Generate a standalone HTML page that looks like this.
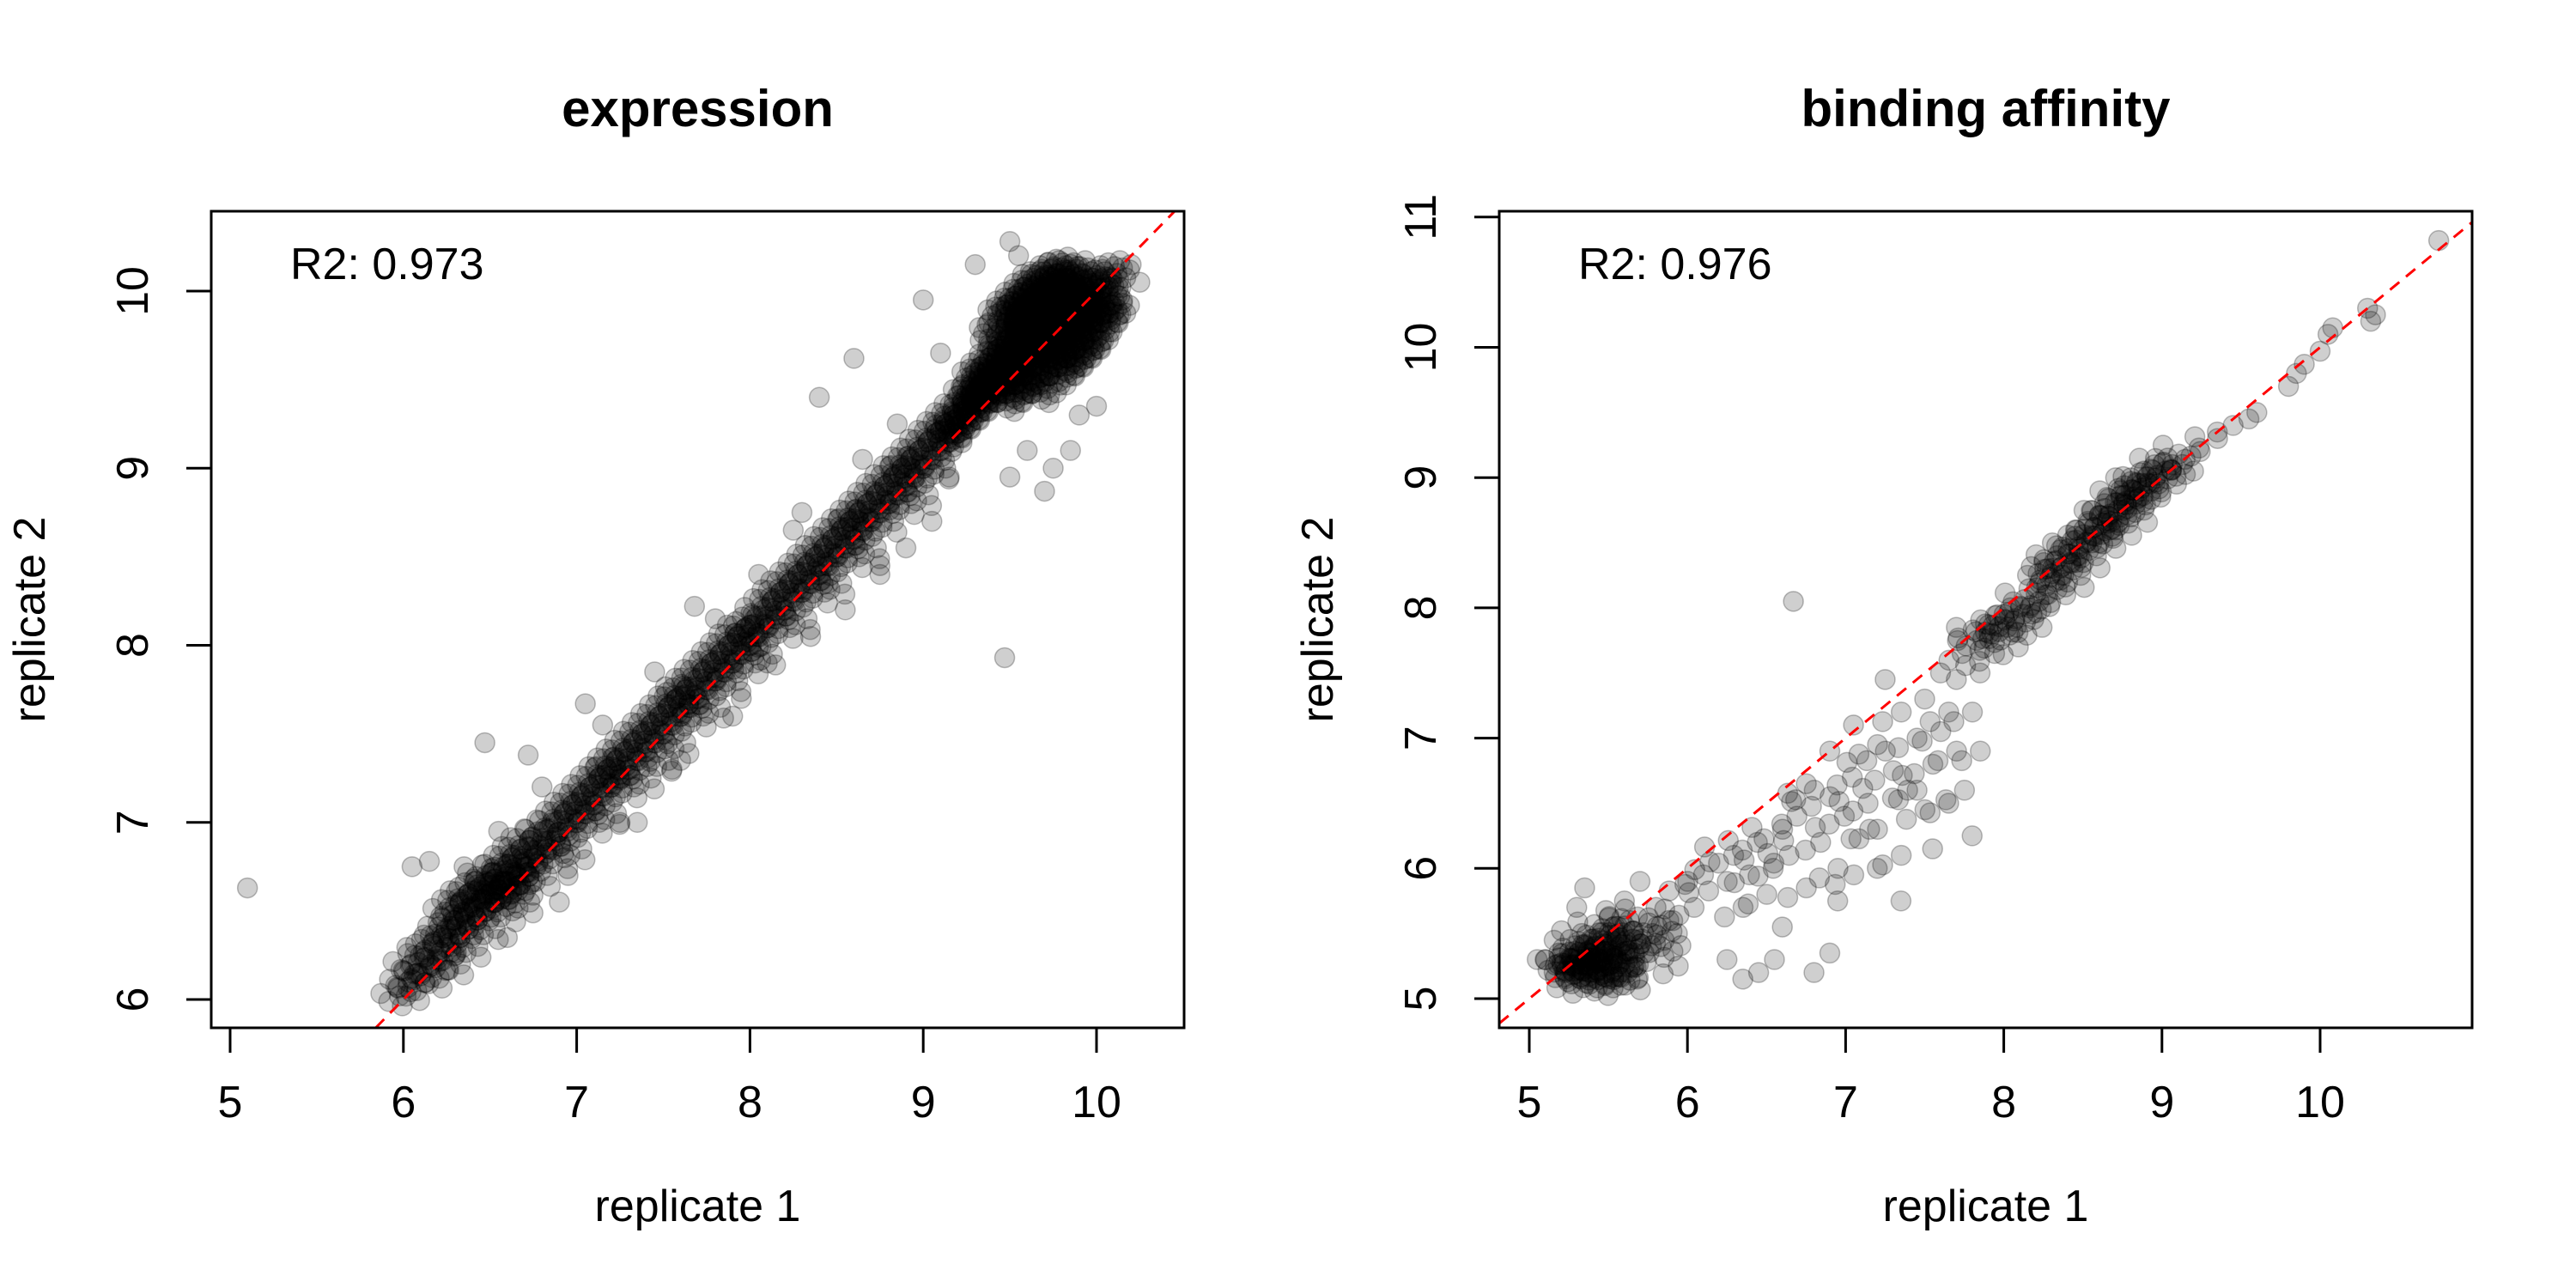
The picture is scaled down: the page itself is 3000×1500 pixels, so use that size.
<!DOCTYPE html>
<html><head><meta charset="utf-8"><style>
html,body{margin:0;padding:0;background:#fff;}
svg{display:block;font-family:"Liberation Sans",sans-serif;}
</style></head><body>
<svg id="chart" width="3000" height="1500" viewBox="0 0 3000 1500" xmlns="http://www.w3.org/2000/svg"></svg>
<script>
// ---- expression panel data ----
const expBandX = [5.95,6.0,6.02,6.05,6.08,6.1,6.12,6.15,6.18,6.2,6.2,6.22,6.25,6.25,6.28,6.3,6.3,6.32,6.35,6.35,6.38,6.4,6.4,6.42,6.45,6.45,6.48,6.5,6.5,6.52,6.55,6.55,6.58,6.6,6.6,6.62,6.65,6.65,6.68,6.7,6.7,6.72,6.75,6.78,6.8,6.82,6.85,6.88,6.9,6.92,6.95,6.98,7.0,7.02,7.05,7.08,7.1,7.12,7.15,7.18,7.2,7.22,7.25,7.28,7.3,7.32,7.35,7.38,7.4,7.42,7.45,7.48,7.5,7.52,7.55,7.58,7.6,7.62,7.65,7.68,7.7,7.72,7.75,7.78,7.8,7.82,7.85,7.88,7.9,7.92,7.95,7.98,8.0,8.02,8.05,8.08,8.1,8.12,8.15,8.18,8.2,8.22,8.25,8.28,8.3,8.32,8.35,8.38,8.4,8.42,8.45,8.48,8.5,8.52,8.55,8.58,8.6,8.62,8.65,8.68,8.7,8.72,8.75,8.78,8.8,8.82,8.85,8.88,8.9,8.92,8.95,8.98,9.0,9.02,9.05,9.08,9.1,9.12,9.15,9.18,9.2];
const expBandY = [6.02,6.1,6.2,6.05,6.15,6.28,6.18,6.3,6.12,6.35,6.22,6.4,6.3,6.5,6.42,6.35,6.55,6.48,6.4,6.6,6.52,6.45,6.62,6.55,6.5,6.7,6.6,6.55,6.68,6.62,6.58,6.75,6.65,6.6,6.8,6.7,6.65,6.85,6.75,6.72,6.9,6.8,6.78,6.95,6.85,6.9,7.0,6.88,7.05,6.95,7.1,7.0,7.15,7.05,7.2,7.1,7.25,7.15,7.3,7.2,7.35,7.25,7.4,7.3,7.45,7.35,7.5,7.4,7.55,7.45,7.6,7.5,7.65,7.55,7.7,7.6,7.72,7.65,7.8,7.7,7.85,7.75,7.9,7.8,7.95,7.85,8.0,7.9,8.05,7.95,8.1,8.0,8.12,8.05,8.2,8.1,8.25,8.15,8.3,8.2,8.35,8.25,8.4,8.3,8.45,8.35,8.5,8.4,8.55,8.45,8.6,8.5,8.65,8.55,8.7,8.6,8.75,8.65,8.8,8.7,8.85,8.75,8.9,8.8,8.95,8.85,9.0,8.9,9.05,8.95,9.1,9.0,9.15,9.05,9.2,9.1,9.25,9.15,9.3,9.2,9.35];
const expBand2X = [6.3,6.4,6.5,6.6,6.7,6.8,6.9,7.0,7.1,7.2,7.3,7.4,7.5,7.6,7.7,7.8,7.9,8.0,8.1,8.2,8.3,8.4,8.5,8.6,8.7,8.8,8.9,9.0,9.1,6.5,6.6,6.7,7.2,7.6,8.0,8.6,8.9];
const expBand2Y = [6.2,6.3,6.4,6.5,6.55,6.7,6.8,6.85,7.0,7.05,7.2,7.25,7.35,7.45,7.6,7.65,7.8,7.9,7.95,8.1,8.15,8.3,8.35,8.5,8.55,8.7,8.8,8.85,9.0,6.65,6.7,6.65,7.3,7.75,8.05,8.7,9.0];
const expCoreX = [9.25,9.3,9.3,9.35,9.35,9.4,9.4,9.4,9.45,9.45,9.45,9.5,9.5,9.5,9.5,9.55,9.55,9.55,9.55,9.6,9.6,9.6,9.6,9.65,9.65,9.65,9.65,9.7,9.7,9.7,9.7,9.7,9.75,9.75,9.75,9.75,9.8,9.8,9.8,9.8,9.8,9.85,9.85,9.85,9.85,9.9,9.9,9.9,9.9,9.95,9.95,9.95,10.0,10.0,10.0,10.05,10.05,10.1,10.1,9.6,9.65,9.7,9.75,9.8,9.85,9.55,9.6,9.65,9.7,9.75,9.8,9.85,9.9,9.5,9.55,9.45,9.4,9.35,9.3,9.25,9.2,9.15];
const expCoreY = [9.4,9.5,9.35,9.55,9.4,9.6,9.45,9.75,9.5,9.65,9.85,9.55,9.7,9.9,9.4,9.6,9.75,9.95,9.45,9.5,9.65,9.8,10.0,9.55,9.7,9.85,10.05,9.6,9.75,9.9,10.05,9.45,9.65,9.8,9.95,10.1,9.55,9.7,9.85,10.0,10.12,9.6,9.75,9.9,10.05,9.65,9.8,9.95,10.1,9.7,9.85,10.0,9.75,9.9,10.05,9.85,10.0,9.9,10.1,9.9,9.95,9.85,9.9,9.95,9.95,9.85,9.75,9.8,9.7,9.75,9.8,9.85,9.9,9.6,9.65,9.55,9.5,9.45,9.4,9.3,9.25,9.2];
const expOutX = [5.1,9.47,6.47,8.6,8.4,9.0,9.5,6.72,6.05,7.05,7.68,9.5,9.7,9.85,8.42,8.3,9.15,9.3,9.55,10.2,10.25,10.15,9.05,8.9,8.75,8.55,8.45,8.1,7.9,7.55,7.35,6.9,6.3,6.15,6.6,9.9,10.0,9.6,9.75,9.1,6.35,6.55,6.8,7.15,7.45,7.8,8.05,8.25,8.65,8.85,6.95,7.25,7.6,7.95,8.35,8.75];
const expOutY = [6.63,7.93,7.45,9.62,9.4,9.95,10.28,7.38,6.75,7.67,8.22,8.95,8.87,9.1,8.45,8.75,8.95,10.15,10.2,10.15,10.05,9.95,8.7,8.55,8.4,8.2,8.35,7.9,7.6,7.3,7.0,6.55,6.25,6.78,6.35,9.3,9.35,9.1,9.0,9.65,6.75,6.95,7.2,7.55,7.85,8.15,8.4,8.65,9.05,9.25,6.7,7.0,7.35,7.7,8.05,8.45];
// ---- binding affinity panel data ----
const bndLowX = [5.25,5.35,5.45,5.5,5.4,5.3,5.55,5.6,5.65,5.7,5.2,5.15,5.5,5.75,5.8,5.85,5.9,5.3,5.6,5.45,5.65,5.9,6.0,5.55,5.75,5.95,6.05,5.35,5.25,5.4,5.5,5.6];
const bndLowY = [5.3,5.25,5.3,5.2,5.4,5.15,5.4,5.3,5.45,5.35,5.2,5.35,5.55,5.5,5.4,5.6,5.5,5.5,5.6,5.1,5.15,5.25,5.7,5.75,5.7,5.9,5.95,5.35,5.25,5.2,5.45,5.2];
const bndLowN = [12,14,14,12,12,8,12,10,8,8,7,4,6,6,5,5,4,5,5,6,5,3,3,2,2,2,2,12,10,12,12,10];
const bndMidX = [5.05,5.1,5.3,5.35,5.7,6.1,6.2,6.25,6.3,6.35,6.4,6.45,6.5,6.55,6.6,6.6,6.65,6.7,6.75,6.8,6.85,6.9,6.9,6.95,7.0,7.0,7.05,7.1,7.15,7.2,7.25,7.3,7.3,7.35,7.4,7.45,7.5,7.5,7.55,7.6,7.6,7.65,7.7,7.7,7.75,7.8,7.8,7.4,6.55,6.8,6.9,6.35,6.45,6.25,6.95,7.2,7.1,6.7,7.25,7.15,7.35,7.55,6.67];
const bndMidY = [5.3,5.3,5.7,5.85,5.9,6.05,5.9,6.1,5.7,5.95,6.2,5.8,6.0,6.3,5.55,6.1,6.4,5.85,6.6,6.2,6.55,6.0,6.9,6.4,6.7,5.95,7.1,6.5,6.3,6.9,6.75,7.2,6.1,6.6,7.0,6.45,6.8,7.3,7.05,6.5,7.2,6.9,7.45,6.6,7.2,6.9,6.25,6.6,5.3,5.2,5.35,5.15,5.2,5.3,5.75,6.0,6.3,6.65,7.45,6.95,5.75,6.15,8.05];
const bndMidN = [1,1,1,1,1,3,2,3,2,3,3,2,3,2,1,3,3,2,2,3,2,2,1,3,3,2,1,3,2,2,2,2,2,3,2,2,2,1,2,2,2,2,1,2,2,2,1,2,1,1,1,1,1,1,1,1,2,2,1,2,1,1,1];
const bndHighX = [7.7,7.8,7.9,8.0,8.1,8.2,8.3,8.4,8.5,8.6,8.7,8.8,8.9,9.0,9.1,9.2,9.3,7.9,8.05,8.2,8.35,8.45,8.55,8.65,8.75,8.85,8.95,9.05,8.0,8.3,8.5,8.7,8.85,9.0,8.6,7.85,7.95,7.6,7.7,8.15,8.4,9.2,8.25,8.45,8.65,8.8];
const bndHighY = [7.65,7.75,7.8,7.85,7.95,8.05,8.2,8.35,8.5,8.65,8.75,8.85,8.95,9.05,9.1,9.2,9.3,7.65,7.7,7.85,8.1,8.25,8.4,8.55,8.65,8.75,8.85,8.95,8.0,8.4,8.65,8.9,9.05,9.15,8.8,7.5,7.95,7.5,7.85,8.25,8.55,9.05,8.3,8.45,8.6,8.9];
const bndHighN = [4,6,8,10,10,10,10,10,10,10,12,12,12,10,6,3,2,3,3,3,3,4,4,4,4,4,3,3,3,4,4,4,4,4,4,1,2,1,1,1,2,1,8,8,8,8];
const bndTailX = [9.35,9.45,9.55,9.6,9.8,9.85,9.9,10.0,10.05,10.08,10.3,10.35,10.32,10.75];
const bndTailY = [9.35,9.4,9.45,9.5,9.7,9.8,9.87,9.97,10.1,10.15,10.3,10.25,10.2,10.82];
// ---- axes/text ----
const expXTicks = [5,6,7,8,9,10];
const expYTicks = [6,7,8,9,10];
const bndXTicks = [5,6,7,8,9,10];
const bndYTicks = [5,6,7,8,9,10,11];

const NS = "http://www.w3.org/2000/svg";
const svg = document.getElementById('chart');
function mk(tag, attrs, parent){const e=document.createElementNS(NS,tag);for(const k in attrs)e.setAttribute(k,attrs[k]);(parent||svg).appendChild(e);return e;}

function panel(cfg){
  const g = mk('g',{});
  
  
  const sx = v => cfg.x0px + (v - cfg.x0v) * cfg.xs;
  const sy = v => cfg.y0px - (v - cfg.y0v) * cfg.ys;
  const clip = mk('clipPath',{id:cfg.name+'-clip'},g);
  mk('rect',{x:cfg.L,y:cfg.T,width:cfg.R-cfg.L,height:cfg.B-cfg.T},clip);
  const pts = mk('g',{'clip-path':'url(#'+cfg.name+'-clip)'},g);
  
  
  cfg.groups.forEach(gr=>{
    for(let i=0;i<gr.x.length;i++){
      const n = gr.n ? (Array.isArray(gr.n)?gr.n[i]:gr.n) : 1;
      const px = sx(gr.x[i]), py = sy(gr.y[i]);
      for(let k=0;k<n;k++){
        // spread overlapping replicates in a sunflower pattern (visual only)
        const rr = n>1 ? 19*Math.sqrt((k+0.5)/n) : 0;
        const ang = k*2.39996;
        const c = mk('circle',{cx:px+rr*Math.cos(ang),cy:py+rr*Math.sin(ang),r:11.5,fill:'rgba(0,0,0,0.19)',stroke:'rgba(0,0,0,0.26)','stroke-width':1.5},pts);
        
        
      }
    }
  });
  const lo = Math.max(cfg.x0v + (cfg.L-cfg.x0px)/cfg.xs, cfg.y0v - (cfg.B-cfg.y0px)/cfg.ys);
  const hi = Math.min(cfg.x0v + (cfg.R-cfg.x0px)/cfg.xs, cfg.y0v + (cfg.y0px-cfg.T)/cfg.ys);
  const ln = mk('line',{x1:sx(lo),y1:sy(lo),x2:sx(hi),y2:sy(hi),stroke:'#ff0000','stroke-width':3,'stroke-dasharray':'14 10'},g);
  
  
  const box = mk('rect',{x:cfg.L,y:cfg.T,width:cfg.R-cfg.L,height:cfg.B-cfg.T,fill:'none',stroke:'#000','stroke-width':3},g);
  
  
  const xa = mk('g',{},g);
  
  
  mk('line',{x1:sx(cfg.xt[0]),x2:sx(cfg.xt[cfg.xt.length-1]),y1:cfg.B,y2:cfg.B,stroke:'#000','stroke-width':3},xa);
  cfg.xt.forEach(t=>{
    mk('line',{x1:sx(t),x2:sx(t),y1:cfg.B,y2:cfg.B+29,stroke:'#000','stroke-width':3},xa);
    const tx = mk('text',{x:sx(t),y:1301,'font-size':52,'text-anchor':'middle'},xa);
    tx.textContent = t;
    
    
  });
  const ya = mk('g',{},g);
  
  
  mk('line',{x1:cfg.L,x2:cfg.L,y1:sy(cfg.yt[0]),y2:sy(cfg.yt[cfg.yt.length-1]),stroke:'#000','stroke-width':3},ya);
  cfg.yt.forEach(t=>{
    mk('line',{x1:cfg.L-29,x2:cfg.L,y1:sy(t),y2:sy(t),stroke:'#000','stroke-width':3},ya);
    const bx = cfg.L - 74;
    const tx = mk('text',{x:bx,y:sy(t),'font-size':52,'text-anchor':'middle',transform:'rotate(-90 '+bx+' '+sy(t)+')'},ya);
    tx.textContent = t;
    
    
  });
  const cx = (cfg.L+cfg.R)/2, cy = (cfg.T+cfg.B)/2;
  const ttl = mk('text',{x:cx,y:147,'font-size':60,'font-weight':'bold','text-anchor':'middle'},g);
  ttl.textContent = cfg.title;
  
  
  const xl = mk('text',{x:cx,y:1422,'font-size':52,'text-anchor':'middle'},g);
  xl.textContent = 'replicate 1';
  
  
  const ylx = cfg.L - 194;
  const yl = mk('text',{x:ylx,y:cy,'font-size':52,'text-anchor':'middle',transform:'rotate(-90 '+ylx+' '+cy+')'},g);
  yl.textContent = 'replicate 2';
  
  
  const r2 = mk('text',{x:cfg.L+92,y:325,'font-size':52},g);
  r2.textContent = cfg.r2;
  
  
}

panel({name:'expression-panel',title:'expression',r2:'R2: 0.973',L:246,R:1379,T:246,B:1197,
  x0v:5,x0px:268,xs:201.8,y0v:6,y0px:1164,ys:206.25,xt:expXTicks,yt:expYTicks,
  groups:[{x:expBandX,y:expBandY,n:6},{x:expBand2X,y:expBand2Y,n:5},{x:expCoreX,y:expCoreY,n:14},{x:expOutX,y:expOutY,n:1}]});
panel({name:'binding-affinity-panel',title:'binding affinity',r2:'R2: 0.976',L:1746,R:2879,T:246,B:1197,
  x0v:5,x0px:1781,xs:184.2,y0v:5,y0px:1163,ys:151.7,xt:bndXTicks,yt:bndYTicks,
  groups:[{x:bndLowX,y:bndLowY,n:bndLowN},{x:bndMidX,y:bndMidY,n:bndMidN},{x:bndHighX,y:bndHighY,n:bndHighN},{x:bndTailX,y:bndTailY,n:1}]});
</script>
</body></html>
